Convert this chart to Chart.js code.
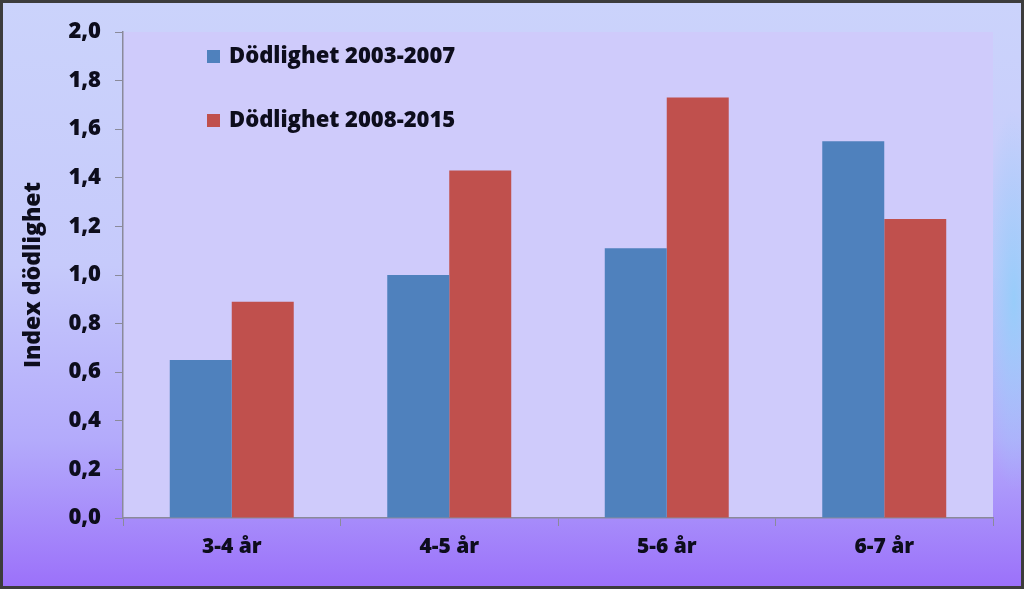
<!DOCTYPE html>
<html>
<head>
<meta charset="utf-8">
<script src="https://cdn.jsdelivr.net/npm/chart.js@4/dist/chart.umd.min.js"></script>
<style>
    html, body { margin: 0; padding: 0; }
    .frame {
        position: relative;
        width: 1024px;
        height: 589px;
        overflow: hidden;
        background:
            radial-gradient(ellipse 34px 190px at 1014px 300px, rgba(150,205,250,0.95), rgba(150,205,250,0)),
            linear-gradient(to bottom, #cbd3fb 0%, #c6cafb 45%, #b3aafb 75%, #9b70fa 100%);
    }
    .frame canvas { position: absolute; left: 0; top: 0; }
    .frame::after {
        content: '';
        position: absolute;
        left: 0; top: 0; right: 0; bottom: 0;
        border: 3px solid #3c3c3c;
        pointer-events: none;
    }
</style>
</head>
<body>
<div class="frame">
    <canvas id="chart" width="1024" height="589"></canvas>
</div>
<script>
// Data
const categories = ['3-4 år', '4-5 år', '5-6 år', '6-7 år'];
const seriesNames = ['Dödlighet 2003-2007', 'Dödlighet 2008-2015'];
const mortality0307 = [0.65, 1.00, 1.11, 1.55];
const mortality0815 = [0.89, 1.43, 1.73, 1.23];
const yTicks = [0, 0.2, 0.4, 0.6, 0.8, 1.0, 1.2, 1.4, 1.6, 1.8, 2.0];

const FONT = '"Open Sans", Lato, sans-serif';
const TEXT = '#0d0d1c';

// Plot area fill
const plotBackground = {
    id: 'plotBackground',
    beforeDraw(chart) {
        const { ctx, chartArea: a } = chart;
        ctx.save();
        ctx.fillStyle = '#cfcbfb';
        ctx.fillRect(a.left, a.top, a.right - a.left, a.bottom - a.top);
        ctx.restore();
    }
};

// Legend drawn inside the plot, top left
const innerLegend = {
    id: 'innerLegend',
    afterDraw(chart) {
        const { ctx } = chart;
        const rows = [56, 120];
        ctx.save();
        ctx.font = '800 22px ' + FONT;
        ctx.textBaseline = 'middle';
        chart.data.datasets.forEach((ds, i) => {
            ctx.fillStyle = ds.backgroundColor;
            ctx.fillRect(207, rows[i] - 6, 13, 13);
            ctx.fillStyle = TEXT;
            ctx.fillText(ds.label, 229, rows[i] + 1);
        });
        ctx.restore();
    }
};

new Chart(document.getElementById('chart'), {
    type: 'bar',
    data: {
        labels: categories,
        datasets: [
            { label: seriesNames[0], data: mortality0307, backgroundColor: '#4f81bd' },
            { label: seriesNames[1], data: mortality0815, backgroundColor: '#c0504d' }
        ]
    },
    options: {
        responsive: false,
        animation: false,
        devicePixelRatio: 1,
        layout: { padding: { left: 0, top: 32, right: 31, bottom: 0 } },
        datasets: {
            bar: { categoryPercentage: 0.57, barPercentage: 1.0 }
        },
        plugins: {
            legend: { display: false },
            tooltip: { enabled: false }
        },
        scales: {
            x: {
                afterFit: s => { s.height = 71; },
                grid: {
                    drawOnChartArea: false,
                    drawTicks: true,
                    tickLength: 8,
                    color: '#8a8a9a',
                    offset: true
                },
                border: { color: '#8a8a9a', width: 1.5 },
                ticks: {
                    color: TEXT,
                    font: { family: FONT, size: 21, weight: '800' },
                    padding: 8
                }
            },
            y: {
                min: 0,
                max: 2,
                afterFit: s => { s.width = 123; },
                afterBuildTicks: s => { s.ticks = yTicks.map(v => ({ value: v })); },
                grid: {
                    drawOnChartArea: false,
                    drawTicks: true,
                    tickLength: 8,
                    color: '#8a8a9a'
                },
                border: { color: '#8a8a9a', width: 1.5 },
                ticks: {
                    color: TEXT,
                    font: { family: FONT, size: 22, weight: '800' },
                    padding: 14,
                    callback: v => v.toFixed(1).replace('.', ',')
                },
                title: {
                    display: true,
                    text: 'Index dödlighet',
                    color: TEXT,
                    font: { family: FONT, size: 23, weight: '800' },
                    padding: { top: 20, bottom: 0 }
                }
            }
        }
    },
    plugins: [plotBackground, innerLegend]
});
</script>
</body>
</html>
